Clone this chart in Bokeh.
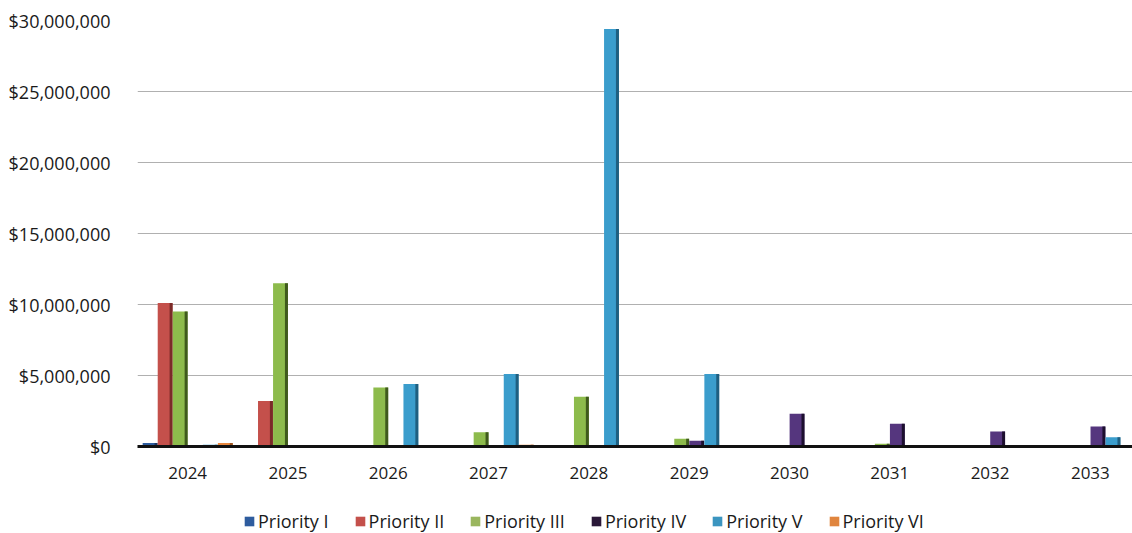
from bokeh.plotting import figure
from bokeh.layouts import column
from bokeh.models import (ColumnDataSource, Range1d, NumeralTickFormatter,
                          Legend, LegendItem, FixedTicker)
from bokeh.transform import dodge
from bokeh.embed import file_html
from bokeh.resources import INLINE

# Annual cost by priority level (USD)
years = ["2024", "2025", "2026", "2027", "2028", "2029", "2030", "2031", "2032", "2033"]
priority_1 = [250000, 60000, 50000, 60000, 50000, 60000, 50000, 60000, 50000, 40000]
priority_2 = [10100000, 3200000, 40000, 40000, 40000, 40000, 40000, 40000, 40000, 40000]
priority_3 = [9500000, 11500000, 4150000, 1000000, 3500000, 550000, 60000, 200000, 60000, 60000]
priority_4 = [80000, 60000, 60000, 60000, 60000, 400000, 2300000, 1600000, 1050000, 1400000]
priority_5 = [120000, 60000, 4400000, 5100000, 29400000, 5100000, 60000, 60000, 60000, 650000]
priority_6 = [250000, 100000, 100000, 120000, 80000, 80000, 80000, 80000, 80000, 80000]

series_names = ["Priority I", "Priority II", "Priority III", "Priority IV", "Priority V", "Priority VI"]
series_values = [priority_1, priority_2, priority_3, priority_4, priority_5, priority_6]
colors = ["#2e5c9e", "#c4504b", "#8dbb4c", "#55367e", "#3b9dcc", "#e8873e"]
side_colors = ["#1a3560", "#7a2a28", "#3f5a1c", "#1c0f2e", "#1f5f80", "#9a5420"]
legend_colors = ["#2e5c9e", "#c4504b", "#9ab65e", "#2a1838", "#3b95c0", "#e0853e"]

pos = list(range(len(years)))
data = {"pos": pos}
for i, vals in enumerate(series_values):
    data[f"s{i}"] = vals
source = ColumnDataSource(data)

# main chart
p = figure(width=1132, height=488, x_range=Range1d(-0.5, 9.42),
           y_range=Range1d(0, 30000000),
           output_backend="svg", toolbar_location=None,
           min_border_left=137, min_border_right=0, min_border_top=20,
           min_border_bottom=42)

bar_w = 0.15
for i, name in enumerate(series_names):
    off = (i - 2.5) * bar_w
    p.vbar(x=dodge("pos", off), top=f"s{i}", width=bar_w * 0.98,
           source=source, fill_color=colors[i], line_color=None)
    # darker side face for a shallow depth effect
    p.vbar(x=dodge("pos", off + bar_w * 0.40), top=f"s{i}",
           width=bar_w * 0.2, source=source, fill_color=side_colors[i], line_color=None)

p.yaxis.formatter = NumeralTickFormatter(format="$0,0")
p.yaxis.ticker = FixedTicker(ticks=[0, 5e6, 10e6, 15e6, 20e6, 25e6, 30e6])
p.yaxis.axis_line_color = None
p.yaxis.major_tick_line_color = None
p.yaxis.minor_tick_line_color = None
p.yaxis.major_label_text_font = "Open Sans"
p.yaxis.major_label_text_font_size = "18px"
p.yaxis.major_label_text_color = "#1a1a1a"
p.yaxis.major_label_standoff = 21

p.xaxis.ticker = FixedTicker(ticks=pos)
p.xaxis.major_label_overrides = {i: y for i, y in zip(pos, years)}
p.xaxis.axis_line_color = "#111111"
p.xaxis.axis_line_width = 3
p.xaxis.major_tick_line_color = None
p.xaxis.minor_tick_line_color = None
p.xaxis.major_label_text_font = "Open Sans"
p.xaxis.major_label_text_font_size = "17px"
p.xaxis.major_label_text_color = "#1a1a1a"
p.xaxis.major_label_standoff = 14

p.xgrid.grid_line_color = None
p.ygrid.grid_line_color = "#b0b0b0"
p.ygrid.grid_line_width = 1
p.outline_line_color = None

# legend strip below the chart; its swatch glyphs sit outside the visible range
lg = figure(width=1132, height=45, x_range=Range1d(0, 1), y_range=Range1d(0, 1),
            x_axis_type=None, y_axis_type=None, output_backend="svg",
            toolbar_location=None, min_border=0)
lg.grid.grid_line_color = None
lg.outline_line_color = None
items = []
for i, name in enumerate(series_names):
    r = lg.rect(x=[-10], y=[-10], width=1, height=1,
                fill_color=legend_colors[i], line_color=None)
    items.append(LegendItem(label=name, renderers=[r]))
legend = Legend(items=items, orientation="horizontal", location=(106, 0),
                label_text_font="Open Sans", label_text_font_size="18px",
                label_text_color="#1a1a1a", glyph_width=12, glyph_height=12,
                spacing=25, label_standoff=3, border_line_color=None,
                background_fill_alpha=0, padding=0, margin=0)
lg.add_layout(legend, "center")

layout = column(p, lg, spacing=0)
open("out.html", "w").write(file_html(layout, INLINE))
